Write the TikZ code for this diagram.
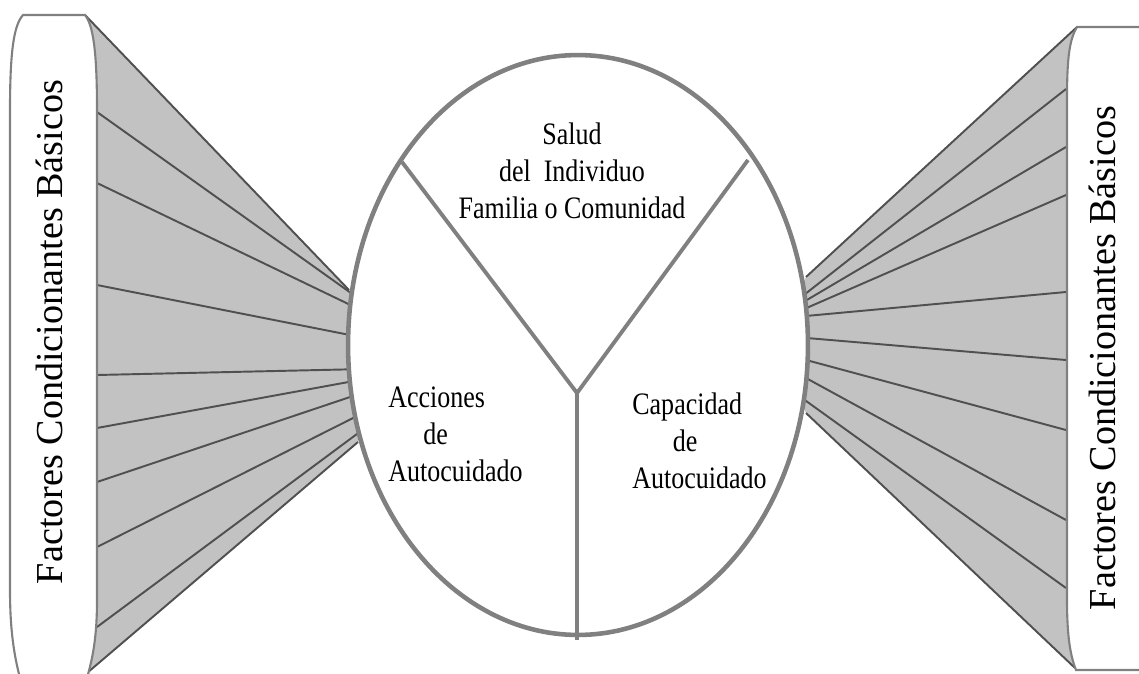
\documentclass[tikz,border=0pt]{standalone}
\usepackage{fontspec}
\setmainfont{Liberation Serif}
\definecolor{borde}{RGB}{128,128,128}
\definecolor{relleno}{RGB}{194,194,194}
\definecolor{rayo}{RGB}{80,80,80}

\begin{document}
\begin{tikzpicture}[x=0.02cm,y=-0.02cm,
  fanline/.style={rayo,line width=1.1pt},
  panel/.style={borde,line width=1.2pt,fill=white},
  elipse/.style={borde,line width=2.6pt,fill=white},
  division/.style={borde,line width=2.2pt},
  texto/.style={font=\fontsize{14.8}{17.5}\selectfont,align=left,inner sep=0pt,
    yscale=1.2,transform shape},
  lado/.style={font=\fontsize{21.7}{24}\selectfont,rotate=90,inner sep=0pt,anchor=base}]

\useasboundingbox (0,0) rectangle (1139,673);
\clip (0,0) rectangle (1139,673);

% abanicos grises
\fill[relleno] (85,15) -- (349,290) -- (380,370) -- (358,442) -- (87,673) -- cycle;
\fill[relleno] (1077,27) -- (806,277) -- (780,340) -- (806,413) -- (1075,668) -- cycle;
\draw[fanline] (85,15) -- (349,290);
\draw[fanline] (87,673) -- (358,442);
\draw[fanline] (1077,27) -- (806,277);
\draw[fanline] (1075,668) -- (806,413);

\foreach \a/\b in {112/303,183/312,285/338,375/369,428/379,482/392,547/412,627/428}
  \draw[fanline] (97,\a) -- (365,\b);
\foreach \a/\b in {89/302,147/307,195/313,292/317,360/337,430/357,520/372,588/393}
  \draw[fanline] (1066,\a) -- (795,\b);

% paneles laterales
\draw[panel] (23,15) -- (85,15) .. controls (93,25) and (97,50) .. (97,110)
  -- (97,600) .. controls (97,640) and (92,660) .. (87,678)
  -- (20,678) .. controls (14,655) and (10,630) .. (10,590)
  -- (10,110) .. controls (10,50) and (14,25) .. (23,15) -- cycle;
\draw[panel] (1150,27) -- (1077,27) .. controls (1069,40) and (1067,60) .. (1067,100)
  -- (1067,600) .. controls (1067,635) and (1070,655) .. (1076,670) -- (1150,670);

% circulo central
\coordinate (centro) at (578,345);
\coordinate (union) at (577,393);
\draw[elipse] (centro) ellipse [x radius=4.6cm, y radius=5.8cm];
\draw[division] (402,162) -- (union) -- (748,160);
\draw[division] (union) -- (577,640);

\node[texto,align=center] (salud) at (572,171) {Salud\\del~ Individuo\\Familia o Comunidad};
\node[texto,anchor=west] (acciones) at (388,434) {Acciones\\\hspace{20pt}de\\Autocuidado};
\node[texto,anchor=west] (capacidad) at (632,441) {Capacidad\\\hspace{23pt}de\\Autocuidado};

\node[lado] (izq) at (62,332) {Factores Condicionantes Básicos};
\node[lado] (der) at (1115,358) {Factores Condicionantes Básicos};

\end{tikzpicture}
\end{document}
